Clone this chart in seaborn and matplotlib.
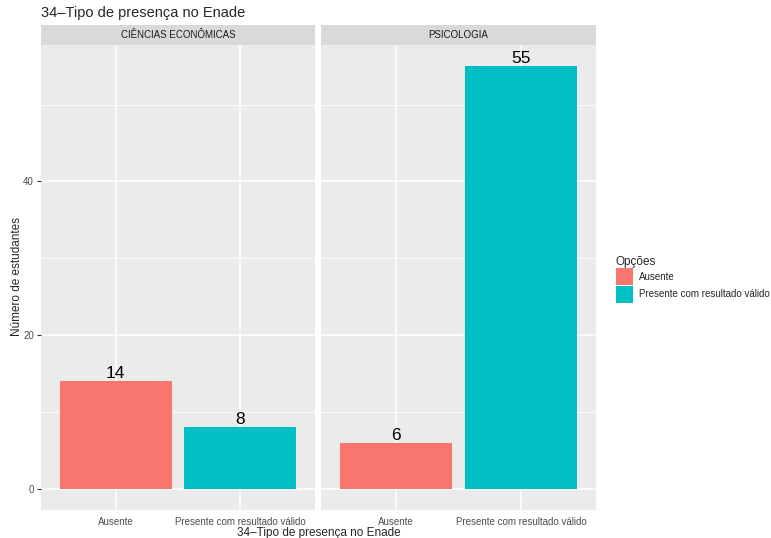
import pandas as pd
import matplotlib
matplotlib.use("Agg")
import matplotlib.pyplot as plt
from matplotlib.patches import Patch
import seaborn as sns

# data
cursos = ["CIÊNCIAS ECONÔMICAS", "PSICOLOGIA"]
opcoes = ["Ausente", "Presente com resultado válido"]
valores = {"CIÊNCIAS ECONÔMICAS": [14, 8], "PSICOLOGIA": [6, 55]}
cores = ["#F8766D", "#00BFC4"]

sns.set_style("white")
plt.rcParams["font.family"] = ["Liberation Sans", "DejaVu Sans"]

W, H = 771, 538
fig = plt.figure(figsize=(W / 100, H / 100), dpi=100)

def box(x0, y0, x1, y1):
    # pixel box -> figure fraction
    return [x0 / W, 1 - y1 / H, (x1 - x0) / W, (y1 - y0) / H]

panels = [(41, 315), (321, 596)]
top, bottom = 45, 510

for i, curso in enumerate(cursos):
    x0, x1 = panels[i]
    ax = fig.add_axes(box(x0, top, x1, bottom))
    df = pd.DataFrame({"opcao": opcoes, "n": valores[curso]})
    sns.barplot(data=df, x="opcao", y="n", hue="opcao", palette=cores,
                hue_order=opcoes, order=opcoes, width=0.9, ax=ax,
                legend=False, saturation=1, zorder=3, linewidth=0,
                edgecolor="none")
    ax.set_facecolor("#EBEBEB")
    for s in ax.spines.values():
        s.set_visible(False)
    ax.set_xlim(-0.6, 1.6)
    ax.set_ylim(-2.75, 57.75)
    ax.set_yticks([0, 20, 40])
    ax.set_yticks([10, 30, 50], minor=True)
    ax.grid(True, which="major", color="white", linewidth=1.1, zorder=0)
    ax.grid(True, which="minor", axis="y", color="white", linewidth=0.55, zorder=0)
    ax.set_axisbelow(True)
    ax.set_xlabel("")
    ax.set_ylabel("")
    ax.tick_params(axis="x", length=3, color="#333333", labelsize=7,
                   labelcolor="#4D4D4D", pad=2)
    ax.tick_params(axis="y", which="major", length=3 if i == 0 else 0,
                   color="#333333", labelsize=7, labelcolor="#4D4D4D", pad=2,
                   left=(i == 0), labelleft=(i == 0))
    ax.tick_params(axis="y", which="minor", length=0)
    for c in ax.containers:
        ax.bar_label(c, fontsize=12.5, padding=0, color="black")

    # strip
    sax = fig.add_axes(box(x0, 25, x1, top))
    sax.set_facecolor("#D9D9D9")
    sax.set_xticks([])
    sax.set_yticks([])
    for s in sax.spines.values():
        s.set_visible(False)
    sax.text(0.5, 0.5, curso, ha="center", va="center", fontsize=7,
             color="#1A1A1A", transform=sax.transAxes)

fig.text(41 / W, 1 - 13 / H, "34–Tipo de presença no Enade", fontsize=10.5,
         ha="left", va="center")
fig.text((41 + 596) / 2 / W, 1 - 533 / H, "34–Tipo de presença no Enade",
         fontsize=8.5, ha="center", va="center")
fig.text(17 / W, 1 - 277 / H, "Número de estudantes", fontsize=8.5,
         rotation=90, ha="center", va="center")

handles = [Patch(facecolor=c, edgecolor="none") for c in cores]
leg = fig.legend(handles, opcoes, title="Opções", loc="upper left",
                 bbox_to_anchor=(608 / W, 1 - 248 / H), frameon=False,
                 fontsize=7, title_fontsize=8.5, handlelength=1.8,
                 handleheight=2.3, handletextpad=0.6, labelspacing=0.05,
                 borderpad=0.3)
leg._legend_box.align = "left"

fig.savefig("out.png", dpi=100)
